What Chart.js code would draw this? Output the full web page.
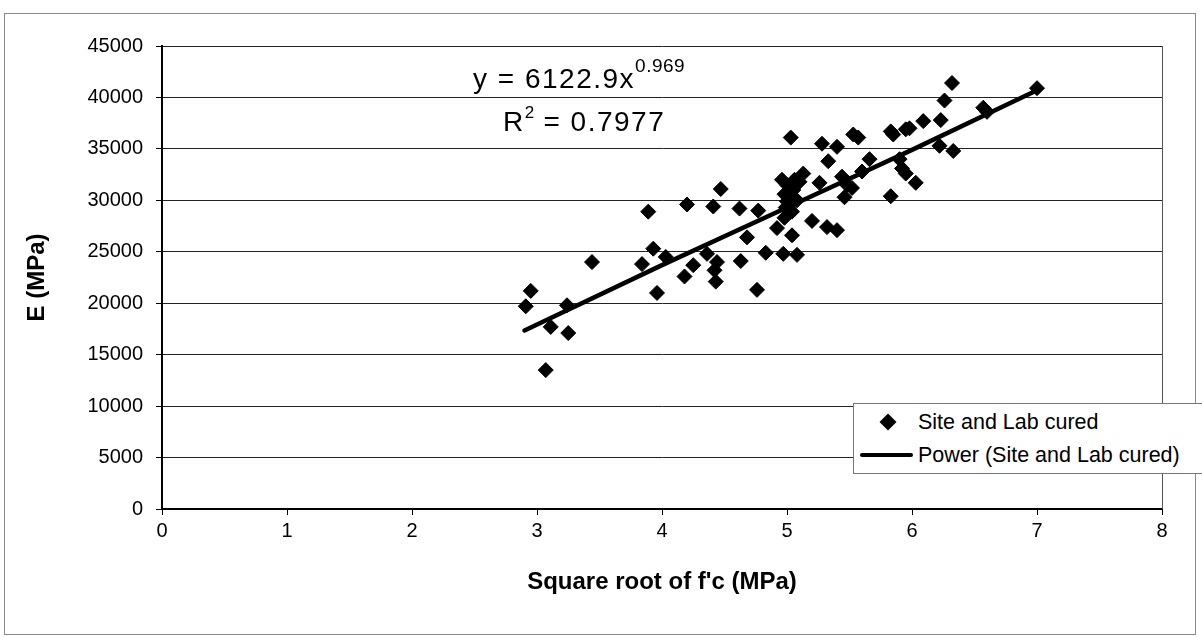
<!DOCTYPE html>
<html><head><meta charset="utf-8">
<script src="https://cdn.jsdelivr.net/npm/chart.js@4.4.1/dist/chart.umd.min.js"></script>
<style>
html,body{margin:0;padding:0;background:#fff;}
body{width:1202px;height:637px;position:relative;overflow:hidden;font-family:"Liberation Sans",Arial,sans-serif;}
#frame{position:absolute;left:4px;top:13px;width:1192px;height:622px;border:1px solid #8a8a8a;box-sizing:border-box;}
#c{position:absolute;left:0;top:0;}
.eq{position:absolute;font-size:28px;line-height:28px;color:#000;white-space:nowrap;letter-spacing:1.5px;word-spacing:0;}
.eq .sup{font-size:19px;line-height:0;vertical-align:16px;letter-spacing:0.5px;}
.eq .sup2{font-size:17px;line-height:0;vertical-align:13px;letter-spacing:0;}
#legend{position:absolute;left:853px;top:403px;width:349px;height:71px;border:1px solid #777;border-right:none;background:#fff;box-sizing:border-box;}
#legend .dia{position:absolute;left:28px;top:12px;width:12px;height:12px;background:#000;transform:rotate(45deg);}
#legend .ln{position:absolute;left:6px;top:49px;width:53px;height:4px;background:#000;border-radius:2px;}
#legend .txt{position:absolute;left:64px;font-size:21.5px;line-height:30px;color:#000;white-space:nowrap;}
</style>
</head><body>
<div id="frame"></div>
<canvas id="c" width="1202" height="637"></canvas>
<div class="eq" style="left:473px;top:65px;">y = 6122.9x<span class="sup">0.969</span></div>
<div class="eq" style="left:503px;top:108px;">R<span class="sup2">2</span> = 0.7977</div>
<div id="legend">
  <div class="dia"></div><div class="txt" style="top:3px;">Site and Lab cured</div>
  <div class="ln"></div><div class="txt" style="top:36px;">Power (Site and Lab cured)</div>
</div>
<script>
// Square root of f'c (MPa)
const fcRoot = [
  2.91,2.95,3.07,3.11,3.25,3.24,3.44,3.84,3.93,4.03,3.96,4.18,4.25,3.89,
  4.20,4.47,4.41,4.62,4.77,5.03,5.28,5.40,5.53,5.57,5.33,5.66,5.60,5.13,4.96,5.26,
  5.44,5.48,5.52,5.46,5.20,5.32,5.40,4.92,5.04,4.68,4.83,4.97,5.08,4.63,4.44,4.42,
  4.43,4.36,4.76,5.00,4.98,5.04,5.00,5.05,5.02,4.99,5.06,5.10,5.08,4.98,
  6.32,6.26,6.57,6.60,7.00,5.83,5.85,5.95,5.98,6.09,6.23,6.22,6.33,5.90,5.92,5.95,6.03,5.83
];
// E (MPa)
const modulus = [
  19700,21200,13500,17700,17100,19800,24000,23800,25300,24500,21000,22600,23700,28900,
  29600,31100,29400,29200,29000,36100,35500,35200,36400,36100,33800,34000,32800,32600,32000,31700,
  32300,31500,31200,30300,28000,27400,27100,27300,26600,26400,24900,24800,24700,24100,24000,23200,
  22100,24800,21300,29900,30600,28900,31500,31000,30200,29300,32000,31800,30000,28300,
  41400,39700,39000,38600,40900,36700,36400,36900,37000,37700,37800,35300,34800,34000,33100,32600,31700,30400
];
// Power trend line
const trendX = [2.9, 4.0, 5.0, 6.0, 7.0];
const trendY = [17350, 23700, 29300, 34900, 40700];
// Tick labels
const xTickLabels = ['0','1','2','3','4','5','6','7','8'];
const yTickLabels = ['0','5000','10000','15000','20000','25000','30000','35000','40000','45000'];

const FONT = '"Liberation Sans", Arial, sans-serif';

const rightBorder = {
  id: 'rightBorder',
  beforeDatasetsDraw(chart) {
    const {ctx, chartArea: a} = chart;
    ctx.save();
    ctx.strokeStyle = '#555';
    ctx.lineWidth = 1;
    ctx.beginPath();
    ctx.moveTo(a.right + 0.5, a.top);
    ctx.lineTo(a.right + 0.5, a.bottom);
    ctx.stroke();
    ctx.restore();
  }
};

new Chart(document.getElementById('c'), {
  type: 'scatter',
  data: {
    datasets: [
      {
        type: 'line',
        label: 'Power (Site and Lab cured)',
        data: trendX.map((x, i) => ({x: x, y: trendY[i]})),
        borderColor: '#000',
        borderWidth: 4.5,
        pointRadius: 0,
        fill: false,
        tension: 0,
        borderCapStyle: 'round',
        order: 1
      },
      {
        type: 'scatter',
        label: 'Site and Lab cured',
        data: fcRoot.map((x, i) => ({x: x, y: modulus[i]})),
        pointStyle: 'rectRot',
        pointRadius: 7.5,
        backgroundColor: '#000',
        borderColor: '#000',
        borderWidth: 1,
        order: 2
      }
    ]
  },
  options: {
    responsive: false,
    animation: false,
    devicePixelRatio: 1,
    layout: {padding: {left: 0, right: 40, top: 46, bottom: 0}},
    plugins: {legend: {display: false}, tooltip: {enabled: false}},
    scales: {
      x: {
        type: 'linear', min: 0, max: 8,
        ticks: {
          stepSize: 1, color: '#000', padding: 4,
          font: {family: FONT, size: 20},
          callback: (v, i) => xTickLabels[i]
        },
        grid: {drawOnChartArea: false, drawTicks: true, tickLength: 6, color: '#000'},
        border: {color: '#000', width: 2},
        title: {
          display: true, text: "Square root of f'c (MPa)", color: '#000',
          font: {family: FONT, size: 24, weight: 'bold'},
          padding: {top: 0, bottom: 40}
        },
        afterFit: s => { s.height = 128; }
      },
      y: {
        min: 0, max: 45000,
        ticks: {
          stepSize: 5000, color: '#000', padding: 13,
          font: {family: FONT, size: 20},
          callback: (v, i) => yTickLabels[i]
        },
        grid: {color: '#222', lineWidth: 1, tickLength: 6, tickColor: '#000'},
        border: {color: '#000', width: 2},
        title: {
          display: true, text: 'E (MPa)', color: '#000',
          font: {family: FONT, size: 24, weight: 'bold'},
          padding: {top: 23, bottom: 0}
        },
        afterFit: s => { s.width = 162; }
      }
    }
  },
  plugins: [rightBorder]
});
</script>
</body></html>
